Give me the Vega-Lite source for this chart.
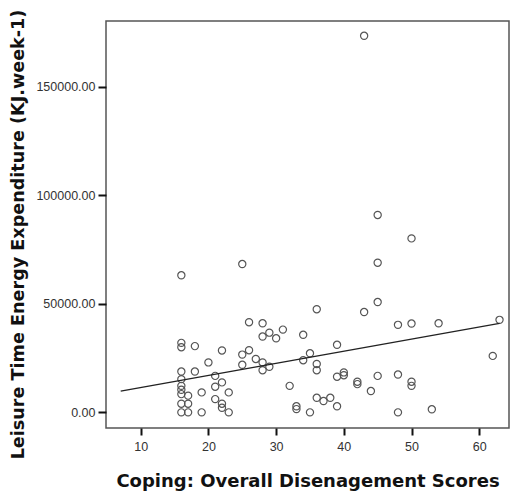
{
  "$schema": "https://vega.github.io/schema/vega-lite/v6.json",
  "autosize": "none",
  "width": 403,
  "height": 407,
  "padding": {"left": 106, "top": 21, "right": 1, "bottom": 70},
  "background": "white",
  "config": {
    "view": {"stroke": "#555555", "strokeWidth": 1.5},
    "font": "Liberation Sans"
  },
  "datasets": {
    "pts": [
      {"x": 43, "y": 173400}, {"x": 45, "y": 90900}, {"x": 50, "y": 80100}, {"x": 25, "y": 68300},
      {"x": 45, "y": 68900}, {"x": 16, "y": 63100}, {"x": 45, "y": 50800}, {"x": 36, "y": 47500},
      {"x": 43, "y": 46200}, {"x": 26, "y": 41500}, {"x": 28, "y": 41000}, {"x": 48, "y": 40300},
      {"x": 50, "y": 40900}, {"x": 54, "y": 41000}, {"x": 63, "y": 42600}, {"x": 31, "y": 38100},
      {"x": 29, "y": 36700}, {"x": 34, "y": 35700}, {"x": 28, "y": 34900}, {"x": 30, "y": 34100},
      {"x": 16, "y": 32000}, {"x": 16, "y": 30000}, {"x": 18, "y": 30500}, {"x": 39, "y": 31100},
      {"x": 26, "y": 28600}, {"x": 22, "y": 28500}, {"x": 35, "y": 27200}, {"x": 25, "y": 26600},
      {"x": 27, "y": 24600}, {"x": 62, "y": 26000}, {"x": 34, "y": 24000}, {"x": 20, "y": 23000},
      {"x": 28, "y": 23000}, {"x": 36, "y": 22300}, {"x": 25, "y": 21900}, {"x": 29, "y": 21000},
      {"x": 16, "y": 18800}, {"x": 18, "y": 18800}, {"x": 28, "y": 19400}, {"x": 36, "y": 19400},
      {"x": 21, "y": 16800}, {"x": 40, "y": 18400}, {"x": 39, "y": 16400}, {"x": 40, "y": 17100},
      {"x": 45, "y": 16800}, {"x": 48, "y": 17400}, {"x": 16, "y": 15300}, {"x": 22, "y": 13800},
      {"x": 42, "y": 14100}, {"x": 42, "y": 13000}, {"x": 50, "y": 14100}, {"x": 50, "y": 12200},
      {"x": 32, "y": 12200}, {"x": 16, "y": 12200}, {"x": 16, "y": 10400}, {"x": 21, "y": 11800},
      {"x": 44, "y": 9800}, {"x": 19, "y": 9200}, {"x": 23, "y": 9200}, {"x": 16, "y": 8400},
      {"x": 17, "y": 7700}, {"x": 21, "y": 6100}, {"x": 36, "y": 6700}, {"x": 38, "y": 6700},
      {"x": 37, "y": 5200}, {"x": 16, "y": 4000}, {"x": 17, "y": 4000}, {"x": 22, "y": 4000},
      {"x": 22, "y": 2100}, {"x": 39, "y": 2800}, {"x": 33, "y": 2800}, {"x": 33, "y": 1500},
      {"x": 53, "y": 1400}, {"x": 16, "y": 0}, {"x": 17, "y": 0}, {"x": 19, "y": 0},
      {"x": 23, "y": 0}, {"x": 35, "y": 0}, {"x": 48, "y": 0}
    ],
    "fit": [
      {"x": 7.04, "y": 9800}, {"x": 63, "y": 41000}
    ]
  },
  "encoding": {
    "x": {
      "field": "x", "type": "quantitative",
      "scale": {"domain": [4.87, 64.4], "nice": false, "zero": false},
      "axis": {
        "title": "Coping: Overall Disenagement Scores",
        "values": [10, 20, 30, 40, 50, 60],
        "domain": false, "grid": false,
        "tickColor": "#111111", "tickWidth": 2, "tickSize": 7,
        "labelFont": "Liberation Sans", "labelFontSize": 12.5, "labelColor": "#333333", "labelPadding": 5,
        "titleFont": "DejaVu Sans", "titleFontSize": 18, "titleFontWeight": "bold", "titleColor": "#111111",
        "titlePadding": 20
      }
    },
    "y": {
      "field": "y", "type": "quantitative",
      "scale": {"domain": [-7200, 180200], "nice": false, "zero": false},
      "axis": {
        "title": "Leisure Time Energy Expenditure (KJ.week-1)",
        "values": [0, 50000, 100000, 150000],
        "format": ".2f",
        "domain": false, "grid": false,
        "tickColor": "#111111", "tickWidth": 2, "tickSize": 8,
        "labelFont": "Liberation Sans", "labelFontSize": 12.5, "labelColor": "#333333", "labelPadding": 3,
        "titleFont": "DejaVu Sans", "titleFontSize": 17.6, "titleFontWeight": "bold", "titleColor": "#111111",
        "titlePadding": 8,
        "titleY": 213
      }
    }
  },
  "layer": [
    {
      "data": {"name": "pts"},
      "mark": {"type": "point", "shape": "circle", "filled": false, "size": 52, "stroke": "#555555", "strokeWidth": 1.2, "opacity": 1}
    },
    {
      "data": {"name": "fit"},
      "mark": {"type": "line", "color": "#222222", "strokeWidth": 1.4}
    }
  ]
}
